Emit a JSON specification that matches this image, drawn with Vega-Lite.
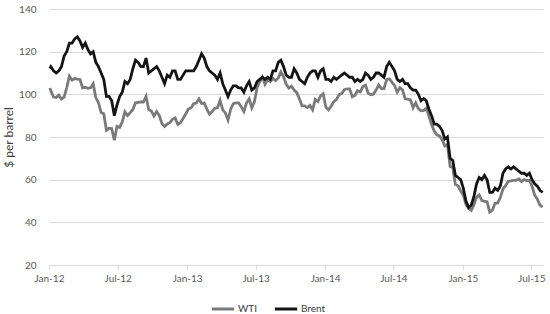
{
  "$schema": "https://vega.github.io/schema/vega-lite/v6.json",
  "width": 494,
  "height": 256,
  "autosize": {"type": "none"},
  "padding": {"left": 49, "top": 9, "right": 7, "bottom": 49},
  "background": "white",
  "config": {"view": {"stroke": null}, "font": "Lato"},
  "data": {"values": [
    {"date":"2012-01-03","WTI":102.96,"Brent":112.1},
    {"date":"2012-01-06","WTI":101.6,"Brent":113},
    {"date":"2012-01-13","WTI":98.7,"Brent":111},
    {"date":"2012-01-20","WTI":98.5,"Brent":110},
    {"date":"2012-01-27","WTI":99.6,"Brent":111},
    {"date":"2012-02-03","WTI":97.8,"Brent":113},
    {"date":"2012-02-10","WTI":98.7,"Brent":118},
    {"date":"2012-02-17","WTI":103.2,"Brent":120},
    {"date":"2012-02-24","WTI":108.5,"Brent":124},
    {"date":"2012-03-02","WTI":106.7,"Brent":124},
    {"date":"2012-03-09","WTI":107.4,"Brent":126},
    {"date":"2012-03-16","WTI":107.1,"Brent":127},
    {"date":"2012-03-23","WTI":106.9,"Brent":125},
    {"date":"2012-03-30","WTI":103.0,"Brent":122},
    {"date":"2012-04-06","WTI":103.3,"Brent":124},
    {"date":"2012-04-13","WTI":102.8,"Brent":121},
    {"date":"2012-04-20","WTI":103.1,"Brent":119},
    {"date":"2012-04-27","WTI":104.9,"Brent":120},
    {"date":"2012-05-04","WTI":98.5,"Brent":115},
    {"date":"2012-05-11","WTI":96.1,"Brent":113},
    {"date":"2012-05-18","WTI":91.5,"Brent":110},
    {"date":"2012-05-25","WTI":90.9,"Brent":107},
    {"date":"2012-06-01","WTI":83.2,"Brent":99},
    {"date":"2012-06-08","WTI":84.1,"Brent":99},
    {"date":"2012-06-15","WTI":84.0,"Brent":97},
    {"date":"2012-06-22","WTI":78.5,"Brent":90},
    {"date":"2012-06-29","WTI":84.96,"Brent":95},
    {"date":"2012-07-06","WTI":84.5,"Brent":99},
    {"date":"2012-07-13","WTI":87.1,"Brent":101},
    {"date":"2012-07-20","WTI":91.8,"Brent":106},
    {"date":"2012-07-27","WTI":90.1,"Brent":105},
    {"date":"2012-08-03","WTI":91.4,"Brent":107},
    {"date":"2012-08-10","WTI":92.9,"Brent":112},
    {"date":"2012-08-17","WTI":96.0,"Brent":116},
    {"date":"2012-08-24","WTI":96.2,"Brent":115},
    {"date":"2012-08-31","WTI":96.5,"Brent":113},
    {"date":"2012-09-07","WTI":96.4,"Brent":113},
    {"date":"2012-09-14","WTI":99.0,"Brent":117},
    {"date":"2012-09-21","WTI":92.9,"Brent":110},
    {"date":"2012-09-28","WTI":92.2,"Brent":111},
    {"date":"2012-10-05","WTI":89.9,"Brent":112},
    {"date":"2012-10-12","WTI":91.9,"Brent":113},
    {"date":"2012-10-19","WTI":90.1,"Brent":111},
    {"date":"2012-10-26","WTI":86.3,"Brent":108},
    {"date":"2012-11-02","WTI":84.9,"Brent":105},
    {"date":"2012-11-09","WTI":86.1,"Brent":109},
    {"date":"2012-11-16","WTI":86.7,"Brent":108},
    {"date":"2012-11-23","WTI":88.3,"Brent":111},
    {"date":"2012-11-30","WTI":88.9,"Brent":111},
    {"date":"2012-12-07","WTI":85.9,"Brent":107},
    {"date":"2012-12-14","WTI":86.7,"Brent":107},
    {"date":"2012-12-21","WTI":88.7,"Brent":109},
    {"date":"2012-12-28","WTI":90.8,"Brent":111},
    {"date":"2013-01-04","WTI":93.1,"Brent":111},
    {"date":"2013-01-11","WTI":93.6,"Brent":111},
    {"date":"2013-01-18","WTI":95.6,"Brent":111},
    {"date":"2013-01-25","WTI":95.9,"Brent":113},
    {"date":"2013-02-01","WTI":97.8,"Brent":116},
    {"date":"2013-02-08","WTI":95.7,"Brent":119},
    {"date":"2013-02-15","WTI":95.9,"Brent":117},
    {"date":"2013-02-22","WTI":93.1,"Brent":113},
    {"date":"2013-03-01","WTI":90.7,"Brent":111},
    {"date":"2013-03-08","WTI":91.9,"Brent":110},
    {"date":"2013-03-15","WTI":93.5,"Brent":109},
    {"date":"2013-03-22","WTI":93.7,"Brent":107},
    {"date":"2013-03-29","WTI":97.2,"Brent":110},
    {"date":"2013-04-05","WTI":92.7,"Brent":105},
    {"date":"2013-04-12","WTI":91.3,"Brent":102},
    {"date":"2013-04-19","WTI":88.0,"Brent":99},
    {"date":"2013-04-26","WTI":93.0,"Brent":102},
    {"date":"2013-05-03","WTI":95.6,"Brent":104},
    {"date":"2013-05-10","WTI":96.0,"Brent":104},
    {"date":"2013-05-17","WTI":96.0,"Brent":103},
    {"date":"2013-05-24","WTI":94.2,"Brent":103},
    {"date":"2013-05-31","WTI":92.0,"Brent":101},
    {"date":"2013-06-07","WTI":96.0,"Brent":104},
    {"date":"2013-06-14","WTI":97.9,"Brent":106},
    {"date":"2013-06-21","WTI":93.7,"Brent":102},
    {"date":"2013-06-28","WTI":96.6,"Brent":103},
    {"date":"2013-07-05","WTI":103.2,"Brent":106},
    {"date":"2013-07-12","WTI":105.9,"Brent":107},
    {"date":"2013-07-19","WTI":108.1,"Brent":108},
    {"date":"2013-07-26","WTI":104.7,"Brent":107},
    {"date":"2013-08-02","WTI":106.9,"Brent":108},
    {"date":"2013-08-09","WTI":106.0,"Brent":107},
    {"date":"2013-08-16","WTI":107.5,"Brent":111},
    {"date":"2013-08-23","WTI":106.4,"Brent":111},
    {"date":"2013-08-30","WTI":107.7,"Brent":115},
    {"date":"2013-09-06","WTI":110.5,"Brent":116},
    {"date":"2013-09-13","WTI":108.2,"Brent":113},
    {"date":"2013-09-20","WTI":104.7,"Brent":109},
    {"date":"2013-09-27","WTI":102.9,"Brent":108},
    {"date":"2013-10-04","WTI":103.8,"Brent":108},
    {"date":"2013-10-11","WTI":102.0,"Brent":112},
    {"date":"2013-10-18","WTI":100.8,"Brent":110},
    {"date":"2013-10-25","WTI":97.9,"Brent":107},
    {"date":"2013-11-01","WTI":94.6,"Brent":106},
    {"date":"2013-11-08","WTI":94.6,"Brent":105},
    {"date":"2013-11-15","WTI":93.8,"Brent":108},
    {"date":"2013-11-22","WTI":94.8,"Brent":110},
    {"date":"2013-11-29","WTI":92.7,"Brent":111},
    {"date":"2013-12-06","WTI":97.6,"Brent":111},
    {"date":"2013-12-13","WTI":96.6,"Brent":108},
    {"date":"2013-12-20","WTI":99.3,"Brent":111},
    {"date":"2013-12-27","WTI":100.3,"Brent":112},
    {"date":"2014-01-03","WTI":94.0,"Brent":107},
    {"date":"2014-01-10","WTI":92.7,"Brent":107},
    {"date":"2014-01-17","WTI":94.4,"Brent":106},
    {"date":"2014-01-24","WTI":96.6,"Brent":108},
    {"date":"2014-01-31","WTI":97.5,"Brent":107},
    {"date":"2014-02-07","WTI":99.9,"Brent":108},
    {"date":"2014-02-14","WTI":100.3,"Brent":109},
    {"date":"2014-02-21","WTI":102.2,"Brent":110},
    {"date":"2014-02-28","WTI":102.6,"Brent":109},
    {"date":"2014-03-07","WTI":102.6,"Brent":108},
    {"date":"2014-03-14","WTI":98.9,"Brent":108},
    {"date":"2014-03-21","WTI":99.5,"Brent":106},
    {"date":"2014-03-28","WTI":101.7,"Brent":107},
    {"date":"2014-04-04","WTI":101.1,"Brent":106},
    {"date":"2014-04-11","WTI":103.7,"Brent":107},
    {"date":"2014-04-18","WTI":104.3,"Brent":110},
    {"date":"2014-04-25","WTI":100.6,"Brent":109},
    {"date":"2014-05-02","WTI":99.8,"Brent":107},
    {"date":"2014-05-09","WTI":100.0,"Brent":108},
    {"date":"2014-05-16","WTI":102.0,"Brent":110},
    {"date":"2014-05-23","WTI":104.4,"Brent":110},
    {"date":"2014-05-30","WTI":102.7,"Brent":109},
    {"date":"2014-06-06","WTI":102.7,"Brent":108},
    {"date":"2014-06-13","WTI":106.9,"Brent":113},
    {"date":"2014-06-20","WTI":107.3,"Brent":115},
    {"date":"2014-06-27","WTI":105.7,"Brent":113},
    {"date":"2014-07-04","WTI":104.1,"Brent":111},
    {"date":"2014-07-11","WTI":101.0,"Brent":107},
    {"date":"2014-07-18","WTI":103.1,"Brent":106},
    {"date":"2014-07-25","WTI":102.1,"Brent":107},
    {"date":"2014-08-01","WTI":97.9,"Brent":105},
    {"date":"2014-08-08","WTI":97.7,"Brent":105},
    {"date":"2014-08-15","WTI":97.4,"Brent":103},
    {"date":"2014-08-22","WTI":93.7,"Brent":102},
    {"date":"2014-08-29","WTI":96.0,"Brent":102},
    {"date":"2014-09-05","WTI":93.3,"Brent":100},
    {"date":"2014-09-12","WTI":92.3,"Brent":97},
    {"date":"2014-09-19","WTI":92.4,"Brent":98},
    {"date":"2014-09-26","WTI":93.5,"Brent":97},
    {"date":"2014-10-03","WTI":89.7,"Brent":93},
    {"date":"2014-10-10","WTI":85.8,"Brent":90},
    {"date":"2014-10-17","WTI":82.8,"Brent":86},
    {"date":"2014-10-24","WTI":81.0,"Brent":86},
    {"date":"2014-10-31","WTI":80.5,"Brent":85},
    {"date":"2014-11-07","WTI":78.7,"Brent":83},
    {"date":"2014-11-14","WTI":75.8,"Brent":79},
    {"date":"2014-11-21","WTI":76.5,"Brent":80},
    {"date":"2014-11-28","WTI":66.2,"Brent":70},
    {"date":"2014-12-05","WTI":65.8,"Brent":69},
    {"date":"2014-12-12","WTI":57.8,"Brent":62},
    {"date":"2014-12-19","WTI":57.1,"Brent":61},
    {"date":"2014-12-26","WTI":54.7,"Brent":60},
    {"date":"2015-01-02","WTI":52.7,"Brent":56},
    {"date":"2015-01-09","WTI":48.4,"Brent":50},
    {"date":"2015-01-16","WTI":46.5,"Brent":47},
    {"date":"2015-01-23","WTI":45.6,"Brent":48},
    {"date":"2015-01-30","WTI":48.2,"Brent":52},
    {"date":"2015-02-06","WTI":51.7,"Brent":58},
    {"date":"2015-02-13","WTI":52.8,"Brent":61},
    {"date":"2015-02-20","WTI":50.3,"Brent":60},
    {"date":"2015-02-27","WTI":49.8,"Brent":62},
    {"date":"2015-03-06","WTI":49.6,"Brent":60},
    {"date":"2015-03-13","WTI":44.8,"Brent":54},
    {"date":"2015-03-20","WTI":45.7,"Brent":54},
    {"date":"2015-03-27","WTI":48.9,"Brent":56},
    {"date":"2015-04-03","WTI":49.1,"Brent":55},
    {"date":"2015-04-10","WTI":51.6,"Brent":57},
    {"date":"2015-04-17","WTI":55.7,"Brent":63},
    {"date":"2015-04-24","WTI":57.2,"Brent":65},
    {"date":"2015-05-01","WTI":59.2,"Brent":66},
    {"date":"2015-05-08","WTI":59.4,"Brent":65},
    {"date":"2015-05-15","WTI":59.7,"Brent":66},
    {"date":"2015-05-22","WTI":59.7,"Brent":65},
    {"date":"2015-05-29","WTI":60.3,"Brent":64},
    {"date":"2015-06-05","WTI":59.1,"Brent":63},
    {"date":"2015-06-12","WTI":60.0,"Brent":63},
    {"date":"2015-06-19","WTI":59.6,"Brent":62},
    {"date":"2015-06-26","WTI":59.6,"Brent":63},
    {"date":"2015-07-03","WTI":56.9,"Brent":60},
    {"date":"2015-07-10","WTI":52.7,"Brent":58},
    {"date":"2015-07-17","WTI":50.9,"Brent":57},
    {"date":"2015-07-24","WTI":48.1,"Brent":55},
    {"date":"2015-07-31","WTI":47.1,"Brent":54}
  ]},
  "transform": [{"fold": ["WTI", "Brent"], "as": ["series", "price"]}],
  "mark": {"type": "line", "strokeWidth": 2.8, "interpolate": "linear"},
  "encoding": {
    "x": {
      "field": "date", "type": "temporal",
      "scale": {"type": "utc", "domain": [{"year": 2012, "month": 1, "date": 1, "utc": true}, {"year": 2015, "month": 8, "date": 1, "utc": true}]},
      "axis": {
        "title": null,
        "values": [
          {"year": 2012, "month": 1, "date": 1, "utc": true},
          {"year": 2012, "month": 7, "date": 1, "utc": true},
          {"year": 2013, "month": 1, "date": 1, "utc": true},
          {"year": 2013, "month": 7, "date": 1, "utc": true},
          {"year": 2014, "month": 1, "date": 1, "utc": true},
          {"year": 2014, "month": 7, "date": 1, "utc": true},
          {"year": 2015, "month": 1, "date": 1, "utc": true},
          {"year": 2015, "month": 7, "date": 1, "utc": true}
        ],
        "labelExpr": "utcFormat(datum.value, '%b-%y')",
        "grid": false,
        "domainColor": "#d9d9d9",
        "tickColor": "#d9d9d9",
        "tickSize": 4,
        "labelFont": "Lato",
        "labelFontSize": 10,
        "labelColor": "#595959",
        "labelPadding": 4,
        "labelFlush": false
      }
    },
    "y": {
      "field": "price", "type": "quantitative",
      "scale": {"domain": [20, 140]},
      "axis": {
        "values": [20, 40, 60, 80, 100, 120, 140],
        "domain": false,
        "ticks": false,
        "gridColor": "#d9d9d9",
        "labelPadding": 13,
        "labelFont": "Lato",
        "labelFontSize": 10,
        "labelColor": "#595959",
        "title": "$ per barrel",
        "titleFont": "Lato",
        "titleFontSize": 12,
        "titleFontWeight": "normal",
        "titleColor": "#404040",
        "titlePadding": 3
      }
    },
    "color": {
      "field": "series", "type": "nominal",
      "scale": {"domain": ["WTI", "Brent"], "range": ["#7a7a7a", "#141414"]},
      "legend": {
        "orient": "none",
        "legendX": 161,
        "legendY": 287,
        "direction": "horizontal",
        "title": null,
        "symbolType": "stroke",
        "symbolSize": 500,
        "symbolStrokeWidth": 3,
        "labelFont": "Lato",
        "labelFontSize": 10,
        "labelColor": "#404040",
        "columnPadding": 10,
        "labelOffset": 2
      }
    }
  }
}
